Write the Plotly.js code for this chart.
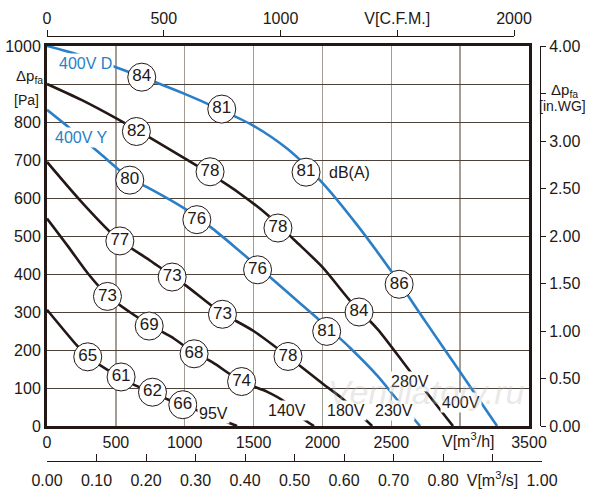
<!DOCTYPE html>
<html>
<head>
<meta charset="utf-8">
<script src="https://cdn.plot.ly/plotly-3.0.1.min.js"></script>
<style>
  body { margin: 0; background: #fff; }
  #chart { width: 600px; height: 500px; }
</style>
</head>
<body>
<div id="chart"></div>
<script>
// fan curves, flow in m3/h, static pressure in Pa
const flow400 = [0, 250, 500, 750, 1000, 1250, 1500, 1750, 2000, 2250, 2500, 2750, 3000, 3268];
const pres400 = [1000, 975, 944, 910, 874, 834, 790, 728, 640, 530, 407, 274, 142, 0];

const flow230 = [0, 168, 385, 600, 750, 1000, 1200, 1400, 1600, 1800, 2000, 2200, 2400, 2543, 2709];
const pres230 = [832, 783, 717, 652, 624, 572, 520, 460, 398, 335, 272, 206, 132, 69, 0];

const flow280 = [0, 250, 500, 750, 1000, 1200, 1400, 1600, 1800, 2000, 2200, 2400, 2640, 2948];
const pres280 = [900, 858, 810, 758, 704, 660, 612, 556, 488, 418, 330, 255, 142, 0];

const flow180 = [0, 250, 500, 750, 1000, 1250, 1500, 1750, 2000, 2159, 2361];
const pres180 = [695, 590, 497, 435, 372, 302, 250, 183, 112, 68, 0];

const flow140 = [0, 150, 300, 450, 600, 750, 900, 1050, 1200, 1413, 1600, 1722, 1867, 1939];
const pres140 = [546, 474, 400, 340, 300, 265, 235, 198, 168, 117, 90, 65, 17, 0];

const flow95 = [0, 222, 296, 439, 538, 629, 766, 882, 986, 1287, 1380];
const pres95 = [306, 210, 182, 148, 129, 109, 89, 69, 56, 13, 0];

// noise level marks dB(A)
const db400x = [688, 1269, 1881, 2557];
const db400y = [918, 834, 668, 373];
const db400 = ['84', '81', '81', '86'];

const db230x = [601, 1088, 1529, 2031];
const db230y = [647, 543, 411, 249];
const db230 = ['80', '76', '76', '81'];

const db280x = [649, 1184, 1677, 2266];
const db280y = [775, 669, 521, 300];
const db280 = ['82', '78', '78', '84'];

const db180x = [529, 909, 1274, 1750];
const db180y = [487, 392, 294, 183];
const db180 = ['77', '73', '73', '78'];

const db140x = [439, 742, 1068, 1413];
const db140y = [341, 263, 190, 117];
const db140 = ['73', '69', '68', '74'];

const db95x = [296, 538, 766, 986];
const db95y = [182, 129, 89, 56];
const db95 = ['65', '61', '62', '66'];

// axes ticks
const flowTicks = [0, 500, 1000, 1500, 2000, 2500, 3000, 3500];
const flowText = ['0', '500', '1000', '1500', '2000', '2500', '', '3500'];
const paTicks = [0, 100, 200, 300, 400, 500, 600, 700, 800, 900, 1000];
const paText = ['0', '100', '200', '300', '400', '500', '600', '700', '800', '', '1000'];
const cfmTicks = [0, 500, 1000, 1500, 2000];
const cfmText = ['0', '500', '1000', 'V[C.F.M.]', '2000'];
const m3sTicks = [0, 0.1, 0.2, 0.3, 0.4, 0.5, 0.6, 0.7, 0.8, 0.9, 1.0];
const m3sText = ['0.00', '0.10', '0.20', '0.30', '0.40', '0.50', '0.60', '0.70', '0.80', 'V[m<sup>3</sup>/s]', '1.00'];
const wgTicks = [0, 0.5, 1, 1.5, 2, 2.5, 3, 3.5, 4];
const wgText = ['0.00', '0.50', '1.00', '1.50', '2.00', '2.50', '3.00', '', '4.00'];

const ink = '#231815';
const blue = '#2a7fc6';
const font = 'Liberation Sans, Arial, Helvetica, sans-serif';

// pixel -> paper helpers (paper spans x 47..542, y 36..461)
const px = v => (v - 47) / 495;
const py = v => (461 - v) / 425;

function curve(x, y, color) {
  return {
    x: x, y: y, type: 'scatter', mode: 'lines',
    line: {color: color, width: 2.6, shape: 'spline', smoothing: 0.8},
    hoverinfo: 'skip', showlegend: false
  };
}

function marks(x, y, t) {
  return {
    x: x, y: y, text: t, type: 'scatter', mode: 'markers+text',
    marker: {symbol: 'circle', size: 28, color: 'white', line: {color: ink, width: 1}},
    textposition: 'middle center',
    textfont: {family: font, size: 17, color: ink},
    hoverinfo: 'skip', showlegend: false, cliponaxis: false
  };
}

let data = [
  curve(flow95, pres95, ink),
  curve(flow140, pres140, ink),
  curve(flow180, pres180, ink),
  curve(flow280, pres280, ink),
  curve(flow230, pres230, blue),
  curve(flow400, pres400, blue),
  marks(db95x, db95y, db95),
  marks(db140x, db140y, db140),
  marks(db180x, db180y, db180),
  marks(db280x, db280y, db280),
  marks(db230x, db230y, db230),
  marks(db400x, db400y, db400),
  // empty traces so the secondary scales get drawn
  {x: [], y: [], xaxis: 'x2', yaxis: 'y2', type: 'scatter', showlegend: false},
  {x: [], y: [], xaxis: 'x3', yaxis: 'y2', type: 'scatter', showlegend: false}
];

function label(text, x, y, color, anchor) {
  return {
    text: text, x: x, y: y, xref: 'x', yref: 'y', showarrow: false,
    xanchor: anchor || 'center', yanchor: 'middle',
    font: {family: font, size: 16, color: color},
    bgcolor: 'white', borderpad: 1
  };
}

function paperText(text, x, y, size) {
  return {
    text: text, x: px(x), y: py(y), xref: 'paper', yref: 'paper', showarrow: false,
    xanchor: 'center', yanchor: 'middle',
    font: {family: font, size: size, color: ink}
  };
}

let layout = {
  width: 600,
  height: 500,
  margin: {l: 47, r: 58, t: 36, b: 39, pad: 0},
  paper_bgcolor: 'white',
  plot_bgcolor: 'rgba(0,0,0,0)',
  showlegend: false,
  font: {family: font, size: 16, color: ink},
  xaxis: {
    domain: [0, 482 / 495], range: [0, 3500],
    tickvals: flowTicks, ticktext: flowText, ticks: '',
    showgrid: true, gridcolor: '#a39d95', gridwidth: 1.5,
    showline: true, mirror: true, linecolor: ink, linewidth: 3,
    zeroline: false, fixedrange: true,
    tickfont: {family: font, size: 16, color: ink}
  },
  yaxis: {
    domain: [35 / 425, 415 / 425], range: [0, 1000],
    tickvals: paTicks, ticktext: paText, ticks: '',
    showgrid: true, gridcolor: '#4d4239', gridwidth: 1,
    showline: true, mirror: true, linecolor: ink, linewidth: 3,
    zeroline: false, fixedrange: true,
    tickfont: {family: font, size: 16, color: ink}
  },
  xaxis2: {
    domain: [0, 467 / 495], range: [0, 2000], anchor: 'free', position: 1, side: 'top',
    tickvals: cfmTicks, ticktext: cfmText, ticks: 'outside', ticklen: 6, tickcolor: ink,
    showgrid: false, showline: true, linecolor: ink, linewidth: 1, zeroline: false,
    fixedrange: true, tickfont: {family: font, size: 16, color: ink}
  },
  xaxis3: {
    domain: [0, 1], range: [0, 1], anchor: 'free', position: 0, side: 'bottom',
    tickvals: m3sTicks, ticktext: m3sText, ticks: 'inside', ticklen: 7, tickcolor: ink,
    ticklabelstandoff: 5,
    showgrid: false, showline: true, linecolor: ink, linewidth: 1, zeroline: false,
    fixedrange: true, tickfont: {family: font, size: 16, color: ink}
  },
  yaxis2: {
    domain: [35 / 425, 415 / 425], range: [0, 4], anchor: 'free', position: 493 / 495, side: 'right',
    tickvals: wgTicks, ticktext: wgText, ticks: 'outside', ticklen: 5, tickcolor: ink,
    showgrid: false, showline: true, linecolor: ink, linewidth: 1, zeroline: false,
    fixedrange: true, tickfont: {family: font, size: 16, color: ink}
  },
  annotations: [
    label('400V D', 73, 955, blue, 'left'),
    label('400V Y', 44, 760, blue, 'left'),
    {text: 'dB(A)', x: 2033, y: 668, xref: 'x', yref: 'y', showarrow: false, xanchor: 'left',
     font: {family: font, size: 16, color: ink}},
    label('280V', 2636, 116, ink),
    label('230V', 2520, 40, ink),
    label('180V', 2171, 40, ink),
    label('140V', 1743, 42, ink),
    label('95V', 1206, 32, ink),
    label('400V', 3006, 63, ink),
    paperText('\u0394p<sub>fa</sub>', 29, 77, 15),
    paperText('[Pa]', 26, 100, 14),
    paperText('\u0394p<sub>fa</sub>', 564, 90, 15),
    paperText('[in.WG]', 562, 106, 14),
    paperText('V[m<sup>3</sup>/h]', 468, 440, 16),
    {text: '<i>Ventilatory.ru</i>', x: px(426), y: py(392), xref: 'paper', yref: 'paper',
     showarrow: false, xanchor: 'center', yanchor: 'middle', opacity: 0.3,
     font: {family: font, size: 34, color: '#b8b8b8'}}
  ]
};

Plotly.newPlot('chart', data, layout, {staticPlot: true});
</script>
</body>
</html>
